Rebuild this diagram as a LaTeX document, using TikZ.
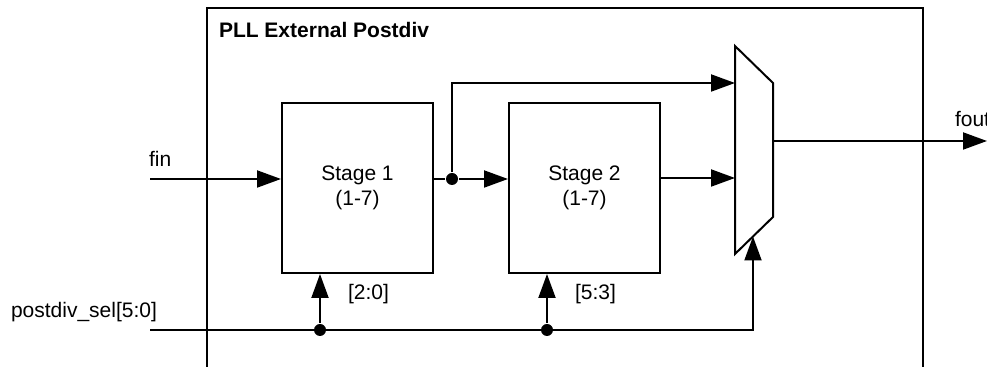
\documentclass[tikz,border=0pt]{standalone}
\usepackage{fontspec}
\setmainfont{Liberation Sans}
\usetikzlibrary{arrows.meta}
\begin{document}
\begin{tikzpicture}[x=0.5pt,y=-0.5pt,line width=1pt,
    font=\fontsize{10.5}{12.4}\selectfont,
    sig/.style={-{Triangle[length=12pt,width=8.5pt]}},
    stagebox/.style={draw,minimum width=75.5pt,minimum height=85pt,align=center,inner sep=0pt},
    jdot/.style={circle,fill,inner sep=0pt,minimum size=6pt},
    lbl/.style={anchor=base west,inner sep=0pt}]
  \useasboundingbox (0,0) rectangle (987,367);
  % outer block, open at the bottom
  \draw (207,367) -- (207,8) -- (923,8) -- (923,367);
  \node[lbl,font=\fontsize{10.5}{12.4}\selectfont\bfseries] (title) at (218,38) {PLL External Postdiv};
  \node[stagebox] (s1) at (357.5,188) {Stage 1\\(1-7)};
  \node[stagebox] (s2) at (584.5,188) {Stage 2\\(1-7)};
  % mux
  \draw (735,46) -- (773,83) -- (773,217) -- (735,254) -- cycle;
  \coordinate (mina) at (735,83);
  \coordinate (minb) at (735,178);
  \coordinate (mout) at (773,141);
  \coordinate (msel) at (753,236.5);
  % signals
  \coordinate (fin) at (150,179);
  \coordinate (fout) at (987,141);
  \coordinate (sel) at (150,330);
  \node[jdot] (j1) at (452,179) {};
  \node[jdot] (d1) at (320,330) {};
  \node[jdot] (d2) at (547,330) {};
  \node[lbl] (finlbl) at (148,167) {fin};
  \node[lbl] (foutlbl) at (954,127) {fout};
  \node[lbl] (sellbl) at (10,318) {postdiv\_sel[5:0]};
  \node[lbl] (b1) at (347,300) {[2:0]};
  \node[lbl] (b2) at (574,300) {[5:3]};
  \draw[sig] (fin) -- (fin -| s1.west);
  \draw (fin -| s1.east) -- (j1);
  \draw[sig] (j1) -- (fin -| s2.west);
  \draw[sig] (j1) |- (mina);
  \draw[sig] (s2.east |- minb) -- (minb);
  \draw[sig] (mout) -- (fout);
  \draw[sig] (sel) -| (msel);
  \draw[sig] (d1) -- (d1 |- s1.south);
  \draw[sig] (d2) -- (d2 |- s2.south);
\end{tikzpicture}
\end{document}
